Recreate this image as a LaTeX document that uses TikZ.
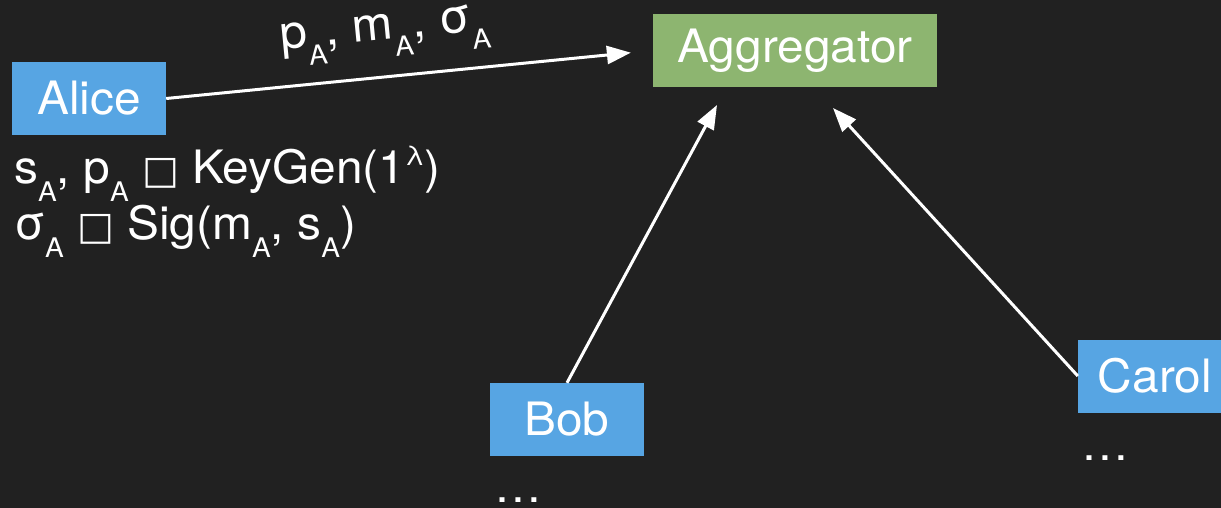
\documentclass[tikz,border=0pt]{standalone}
\usepackage{fontspec}
\setmainfont[FakeStretch=1.04]{TeX Gyre Heros}
\newfontfamily\symfont{DejaVu Sans}
\usetikzlibrary{arrows.meta}
\definecolor{bg}{RGB}{33,33,33}
\definecolor{boxblue}{RGB}{87,165,227}
\definecolor{boxgreen}{RGB}{141,181,112}
\newcommand\mysub[1]{\raisebox{-18pt}{\fontsize{27}{27}\selectfont #1}}
\newcommand\mysupr[1]{\raisebox{18pt}{\fontsize{27}{27}\selectfont #1}}
\newcommand\missingglyph{{\symfont\fontsize{39}{39}\selectfont □}}
\tikzset{
  party/.style={fill=boxblue, text=white, inner sep=0pt, minimum width=154pt, minimum height=73pt, font=\fontsize{46}{46}\selectfont},
  aggbox/.style={fill=boxgreen, text=white, inner sep=0pt, minimum width=284pt, minimum height=73pt, font=\fontsize{46}{46}\selectfont},
  arr/.style={draw=white, line width=3pt, -{Triangle[length=24pt,width=18pt]}},
  lbl/.style={text=white, inner sep=0pt, font=\fontsize{46}{46}\selectfont},
  msglbl/.style={text=white, inner sep=0pt, font=\fontsize{47}{47}\selectfont},
  dots/.style={text=white, inner sep=0pt, font=\fontsize{46}{46}\selectfont}
}
\begin{document}
\begin{tikzpicture}[x=1pt,y=-1pt]
\fill[bg] (0,0) rectangle (1221,508);
\useasboundingbox (0,0) rectangle (1221,508);
\clip (0,0) rectangle (1221,508);
\node[party] (alice) at (89,98.5) {Alice};
\node[aggbox] (agg) at (795,50.5) {Aggregator};
\node[party] (bob) at (567,419.5) {Bob};
\node[party] (carol) at (1155,376) {Carol};
\coordinate (bobtip) at (717,105);
\coordinate (caroltip) at (833,108);
\draw[arr, shorten >=22pt] (alice.east) -- (agg.west);
\draw[arr] (bob.north) -- (bobtip);
\draw[arr] (carol.west) -- (caroltip);
\node[msglbl, anchor=base west, rotate=5.5] (msg) at (281,50) {p\mysub{A}, m\mysub{A}, σ\mysub{A}};
\node[lbl, anchor=base west] (line1) at (14,183) {s\mysub{A}, p\mysub{A} \missingglyph{} KeyGen(1\mysupr{λ})};
\node[lbl, anchor=base west] (line2) at (14,239) {σ\mysub{A} \missingglyph{} Sig(m\mysub{A}, s\mysub{A})};
\node[dots, anchor=base] (bobdots) at (518,502) {…};
\node[dots, anchor=base] (caroldots) at (1105,460) {…};
\end{tikzpicture}
\end{document}
